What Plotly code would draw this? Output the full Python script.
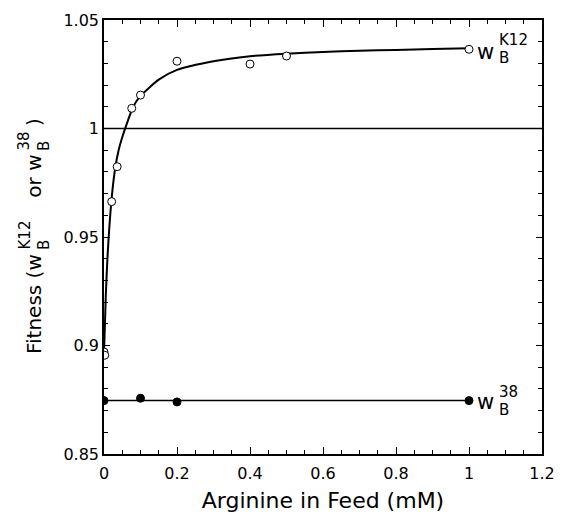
import plotly.graph_objects as go

# ---- data ----
feed_k12 = [0.0, 0.002, 0.021, 0.036, 0.076, 0.10, 0.20, 0.40, 0.50, 1.00]
w_k12 = [0.897, 0.8955, 0.9663, 0.9824, 1.0093, 1.0154, 1.031, 1.0297, 1.0334, 1.0365]

feed_38 = [0.0, 0.10, 0.20, 1.00]
w_38 = [0.8746, 0.8757, 0.8740, 0.8746]

# mean line for w38
mean_x = [0.0, 1.0]
mean_38 = [0.8746, 0.8746]

# fitted saturating curve
fit_x = [0.0, 0.005, 0.01, 0.02, 0.03, 0.04, 0.05, 0.06, 0.08, 0.10, 0.15, 0.20,
         0.30, 0.40, 0.50, 0.60, 0.70, 0.80, 0.90, 1.00]
fit_y = [0.896, 0.9235, 0.942, 0.966, 0.981, 0.990, 0.996, 1.001, 1.010, 1.015,
         1.0225, 1.027, 1.031, 1.0333, 1.0345, 1.0353, 1.0358, 1.0362, 1.0366, 1.037]

ref_level = 1.0

x_range = [0, 1.2]
y_range = [0.85, 1.05]
x_ticks = [0, 0.2, 0.4, 0.6, 0.8, 1.0, 1.2]
x_ticktext = ["0", "0.2", "0.4", "0.6", "0.8", "1", "1.2"]
y_ticks = [0.85, 0.90, 0.95, 1.00, 1.05]
y_ticktext = ["0.85", "0.9", "0.95", "1", "1.05"]

FONT = "DejaVu Sans"

# page body has an 8px margin; the figure is sized/placed to compensate
OFF = 8
W, Hfig = 563 - OFF, 519 - OFF
ML, MT, MR, MB = 104 - OFF, 20 - OFF, 21, 65

fig = go.Figure()

fig.add_trace(go.Scatter(x=fit_x, y=fit_y, mode="lines", line=dict(color="black", width=2, shape="spline", smoothing=0.6),
                         hoverinfo="skip", showlegend=False))
fig.add_trace(go.Scatter(x=mean_x, y=mean_38, mode="lines", line=dict(color="black", width=1.5),
                         hoverinfo="skip", showlegend=False))
fig.add_trace(go.Scatter(x=feed_k12, y=w_k12, mode="markers",
                         marker=dict(symbol="circle", size=8, color="white", line=dict(color="black", width=1)),
                         showlegend=False))
fig.add_trace(go.Scatter(x=feed_38, y=w_38, mode="markers",
                         marker=dict(symbol="circle", size=8, color="black", line=dict(color="black", width=1)),
                         showlegend=False))
# invisible trace so the top/right mirror axes get drawn
fig.add_trace(go.Scatter(x=feed_38, y=w_38, mode="markers", marker=dict(opacity=0), xaxis="x2", yaxis="y2",
                         hoverinfo="skip", showlegend=False))

fig.add_shape(type="line", xref="x domain", x0=0, x1=1, yref="y", y0=ref_level, y1=ref_level,
              line=dict(color="black", width=1.5))

# right-side labels
def stacked_label(xv, yv, sup, dy_w, dy_sup, dy_sub):
    fig.add_annotation(x=xv, y=yv, text="w", showarrow=False, xanchor="left", xshift=6, yshift=dy_w,
                       font=dict(family=FONT, size=21, color="black"))
    fig.add_annotation(x=xv, y=yv, text=sup, showarrow=False, xanchor="left", xshift=28, yshift=dy_sup,
                       font=dict(family=FONT, size=15, color="black"))
    fig.add_annotation(x=xv, y=yv, text="B", showarrow=False, xanchor="left", xshift=28, yshift=dy_sub,
                       font=dict(family=FONT, size=15, color="black"))

stacked_label(feed_k12[-1], w_k12[-1], "K12", -3, 9, -9)
stacked_label(feed_38[-1], w_38[-1], "38", -1, 9, -9)

# y-axis title built from pieces (stacked sub/superscripts); positions in screen px
PH = Hfig - MT - MB
def ypiece(text, px, py_bottom, size):
    fx, fy = px - OFF, py_bottom - OFF
    fig.add_annotation(xref="paper", yref="paper", x=0, y=(Hfig - MB - fy) / PH, xshift=fx - ML,
                       text=text, textangle=-90, showarrow=False, xanchor="center", yanchor="bottom",
                       font=dict(family=FONT, size=size, color="black"))

ypiece("Fitness (w", 34, 356, 20)
ypiece("K12", 24, 252, 15)
ypiece("B", 44, 252, 15)
ypiece(" or w", 34, 206, 20)
ypiece("38", 24, 153, 15)
ypiece("B", 44, 153, 15)
ypiece(")", 34, 128, 20)

axis_common = dict(showline=True, linecolor="black", linewidth=1.5, mirror=True, ticks="inside",
                   tickcolor="black", tickwidth=1.2, showgrid=False, zeroline=False, automargin=False,
                   tickfont=dict(family=FONT, size=16, color="black"))

xminor = dict(dtick=0.05, tick0=0, ticks="inside", ticklen=4, tickcolor="black", tickwidth=1.2, showgrid=False)
yminor = dict(dtick=0.01, tick0=0.85, ticks="inside", ticklen=4, tickcolor="black", tickwidth=1.2, showgrid=False)

fig.update_layout(
    xaxis=dict(range=x_range, tickvals=x_ticks, ticktext=x_ticktext, ticklen=7, minor=xminor,
               ticklabelstandoff=4,
               title=dict(text="Arginine in Feed (mM)", font=dict(family=FONT, size=22, color="black"), standoff=11),
               **axis_common),
    yaxis=dict(range=y_range, tickvals=y_ticks, ticktext=y_ticktext, ticklen=6, minor=yminor, **axis_common),
    xaxis2=dict(range=x_range, overlaying="x", side="top", anchor="y2", tickvals=x_ticks, ticklen=7, minor=xminor,
                showticklabels=False, ticks="inside", tickcolor="black", tickwidth=1.2, showline=False,
                showgrid=False, zeroline=False, automargin=False),
    yaxis2=dict(range=y_range, overlaying="y", side="right", anchor="x2", tickvals=y_ticks, ticklen=6, minor=yminor,
                showticklabels=False, ticks="inside", tickcolor="black", tickwidth=1.2, showline=False,
                showgrid=False, zeroline=False, automargin=False),
    width=W, height=Hfig, margin=dict(l=ML, r=MR, t=MT, b=MB),
    plot_bgcolor="white", paper_bgcolor="white", font=dict(family=FONT, color="black"))

fig.write_html("out.html")
